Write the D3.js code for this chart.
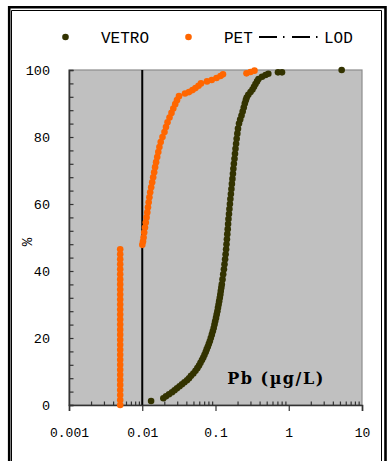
<!DOCTYPE html>
<html>
<head>
<meta charset="utf-8">
<script src="https://cdn.jsdelivr.net/npm/d3@7"></script>
<style>
  body { margin: 0; background: #fff; }
  svg text { font-family: "Liberation Mono", monospace; fill: #000; }
</style>
</head>
<body>
<div id="chart"></div>
<script>
// cumulative distributions of Pb (ug/L): percentile vs value
const vetroPct = [1.2, 2.0, 2.6, 3.2, 3.8, 4.4, 5.0, 5.6, 6.2, 6.8, 7.4, 8.0, 8.7, 9.4, 10.2, 11.0, 11.8, 12.6, 13.4, 14.2,
  15.0, 15.8, 16.6, 17.4, 18.2, 19.0, 20.0, 21.0, 22.0, 23.0, 24.0, 25.0, 26.0, 27.0, 28.0, 29.0, 30.0, 31.0, 32.0, 33.0,
  34.0, 35.0, 36.0, 37.5, 39.0, 40.5, 42.0, 43.5, 45.0, 46.5, 48.0, 49.5, 51.0, 52.5, 54.0, 55.5, 57.0, 58.5, 60.0, 61.5,
  63.0, 64.5, 66.0, 67.5, 69.0, 70.5, 72.0, 73.5, 75.0, 76.5, 78.0, 79.5, 81.0, 82.5, 84.0, 85.2, 86.4, 87.6, 88.8, 90.0,
  91.0, 91.8, 92.6, 93.4, 94.2, 95.0, 95.8, 96.6, 97.3, 98.0, 98.5, 98.9, 99.3, 99.3, 100]
const vetroPb = [0.0132, 0.0194, 0.0211, 0.0232, 0.0255, 0.0276, 0.0298, 0.0323, 0.0349, 0.0377, 0.0408, 0.0435, 0.0463, 0.0498, 0.0533, 0.0565, 0.0596, 0.0624, 0.0654, 0.0681,
  0.0708, 0.0735, 0.0758, 0.0785, 0.0810, 0.0836, 0.0863, 0.0891, 0.0919, 0.0945, 0.0969, 0.0990, 0.1016, 0.1038, 0.1061, 0.1081, 0.1102, 0.1122, 0.1145, 0.1164,
  0.1181, 0.1200, 0.1219, 0.1247, 0.1274, 0.1303, 0.1327, 0.1352, 0.1374, 0.1396, 0.1413, 0.1432, 0.1449, 0.1469, 0.1486, 0.1503, 0.1528, 0.1549, 0.1574, 0.1596,
  0.1622, 0.1648, 0.1675, 0.1702, 0.1730, 0.1754, 0.1782, 0.1816, 0.1845, 0.1875, 0.1910, 0.1945, 0.1986, 0.2028, 0.2094, 0.2173, 0.2265, 0.2350, 0.2432, 0.2512,
  0.2594, 0.2667, 0.2805, 0.3006, 0.3199, 0.3357, 0.3516, 0.3690, 0.3864, 0.4315, 0.4819, 0.5262, 0.7131, 0.8090, 5.28]

const petPct = [0, 1.5, 3, 4.5, 6, 7.5, 9, 10.5, 12, 13.5, 15, 16.5, 18, 19.5, 21, 22.5, 24, 25.5, 27, 28.5,
  30, 31.5, 33, 34.5, 36, 37.5, 39, 40.5, 42, 43.5, 45, 46.5,
  47.8, 48.8, 50.0, 51.5, 53.0, 54.5, 56.0, 57.5, 59.0, 60.5, 62.0, 63.5, 65.0, 66.5, 68.0, 69.5, 71.0, 72.5, 74.0, 75.5,
  77.0, 78.5, 80.0, 81.5, 83.0, 84.4, 85.8, 87.2, 88.5, 89.8, 91.0, 92.2, 93.0, 93.4, 94.0, 94.6, 95.3, 96.0, 96.6, 97.0,
  97.6, 98.2, 98.7, 99.0, 99.4, 99.8]
const petPb = [0.005, 0.005, 0.005, 0.005, 0.005, 0.005, 0.005, 0.005, 0.005, 0.005, 0.005, 0.005, 0.005, 0.005, 0.005, 0.005, 0.005, 0.005, 0.005, 0.005,
  0.005, 0.005, 0.005, 0.005, 0.005, 0.005, 0.005, 0.005, 0.005, 0.005, 0.005, 0.005,
  0.01002, 0.01024, 0.01043, 0.01063, 0.01090, 0.01117, 0.01146, 0.01172, 0.01197, 0.01224, 0.01252, 0.01284, 0.01325, 0.01367, 0.01410, 0.01455, 0.01497, 0.01545, 0.01600, 0.01656,
  0.01714, 0.01786, 0.01889, 0.02012, 0.02109, 0.02213, 0.02356, 0.02508, 0.02654, 0.02817, 0.02980, 0.03175, 0.03835, 0.04346, 0.04853, 0.05332, 0.05861, 0.06339, 0.07655, 0.08878,
  0.1032, 0.1170, 0.1265, 0.2649, 0.3006, 0.3404]

const LOD = 0.01
const xTicks = [0.001, 0.01, 0.1, 1, 10]
const yTicks = [0, 20, 40, 60, 80, 100]

const WIDTH = 390, HEIGHT = 461
const MARGIN = {LEFT: 69, RIGHT: 28, TOP: 70, BOTTOM: 56}
const VETRO_COL = '#333300', PET_COL = '#ff6600'

const svg = d3.select('#chart').append('svg')
    .attr('width', WIDTH)
    .attr('height', HEIGHT)

// page frame (thick-thin border)
svg.append('path')
    .attr('d', 'M9.2,470 V7.2 H385.5 V470')
    .attr('fill', 'none').attr('stroke', '#000').attr('stroke-width', 2.6)
svg.append('path')
    .attr('d', 'M11.5,470 V10.5 H381.5 V470')
    .attr('fill', 'none').attr('stroke', '#000').attr('stroke-width', 1)

const x = d3.scaleLog()
    .domain([0.001, 10])
    .range([MARGIN.LEFT, WIDTH - MARGIN.RIGHT])
const y = d3.scaleLinear()
    .domain([0, 100])
    .range([HEIGHT - MARGIN.BOTTOM, MARGIN.TOP])

// plot area
svg.append('rect')
    .attr('x', x(0.001)).attr('y', y(100))
    .attr('width', x(10) - x(0.001)).attr('height', y(0) - y(100))
    .attr('fill', '#c0c0c0')
    .attr('stroke', '#8c8c8c').attr('stroke-width', 1.2)

// LOD line
svg.append('line')
    .attr('x1', x(LOD)).attr('x2', x(LOD))
    .attr('y1', y(0)).attr('y2', y(100))
    .attr('stroke', '#000').attr('stroke-width', 2)

// y axis: ticks every 4, inside; labels at 20s
const yAxis = svg.append('g')
    .attr('transform', `translate(${MARGIN.LEFT},0)`)
    .call(d3.axisLeft(y).tickValues(d3.range(0, 101, 4)).tickSize(-4.5).tickPadding(19)
        .tickFormat(d => yTicks.includes(d) ? d : ''))
yAxis.select('.domain').attr('stroke', '#333').attr('stroke-width', 1.6)
yAxis.selectAll('.tick line').attr('stroke', '#333').attr('stroke-width', 1.2)
yAxis.selectAll('text').style('font-size', '13.5px')

// x axis: decades outward, minor ticks inward
const minor = x.ticks().filter(d => !xTicks.includes(d))
const xMinor = svg.append('g')
    .attr('transform', `translate(0,${y(0)})`)
    .call(d3.axisBottom(x).tickValues(minor).tickSize(-3.5).tickFormat(''))
xMinor.select('.domain').remove()
xMinor.selectAll('.tick line').attr('stroke', '#333').attr('stroke-width', 1.2)

const xAxis = svg.append('g')
    .attr('transform', `translate(0,${y(0)})`)
    .call(d3.axisBottom(x).tickValues(xTicks).tickSize(6).tickPadding(17)
        .tickFormat(d => String(d)))
xAxis.select('.domain').attr('stroke', '#333').attr('stroke-width', 1.6)
xAxis.selectAll('.tick line').attr('stroke', '#333').attr('stroke-width', 1.2)
xAxis.selectAll('text').style('font-size', '13px')

// series
const pet = petPb.map((v, i) => [v, petPct[i]])
const vetro = vetroPb.map((v, i) => [v, vetroPct[i]])

svg.append('g').selectAll('circle')
    .data(pet).enter()
    .append('circle')
    .attr('cx', d => x(d[0]))
    .attr('cy', d => y(d[1]))
    .attr('r', 3.3)
    .attr('fill', PET_COL)

svg.append('g').selectAll('circle')
    .data(vetro).enter()
    .append('circle')
    .attr('cx', d => x(d[0]))
    .attr('cy', d => y(d[1]))
    .attr('r', 3.3)
    .attr('fill', VETRO_COL)

// axis titles
svg.append('text')
    .attr('transform', 'translate(32,242) rotate(-90)')
    .attr('text-anchor', 'middle')
    .style('font-size', '14px')
    .text('%')

svg.append('text')
    .attr('x', 276).attr('y', 384)
    .attr('text-anchor', 'middle')
    .style('font-family', '"DejaVu Serif", serif')
    .style('font-weight', 'bold')
    .style('font-size', '16px')
    .style('letter-spacing', '1.5px')
    .text('Pb (µg/L)')

// legend
const legY = 37
const leg = svg.append('g')
leg.append('circle').attr('cx', 65.5).attr('cy', legY).attr('r', 3.3).attr('fill', VETRO_COL)
leg.append('text').attr('x', 101).attr('y', legY + 5.5).style('font-size', '16px').text('VETRO')
leg.append('circle').attr('cx', 188.5).attr('cy', legY).attr('r', 3.3).attr('fill', PET_COL)
leg.append('text').attr('x', 224).attr('y', legY + 5.5).style('font-size', '16px').text('PET')
leg.append('line')
    .attr('x1', 259).attr('x2', 322).attr('y1', legY).attr('y2', legY)
    .attr('stroke', '#000').attr('stroke-width', 2)
    .attr('stroke-dasharray', '18,6,1.5,7.5')
leg.append('text').attr('x', 324).attr('y', legY + 5.5).style('font-size', '16px').text('LOD')
</script>
</body>
</html>
